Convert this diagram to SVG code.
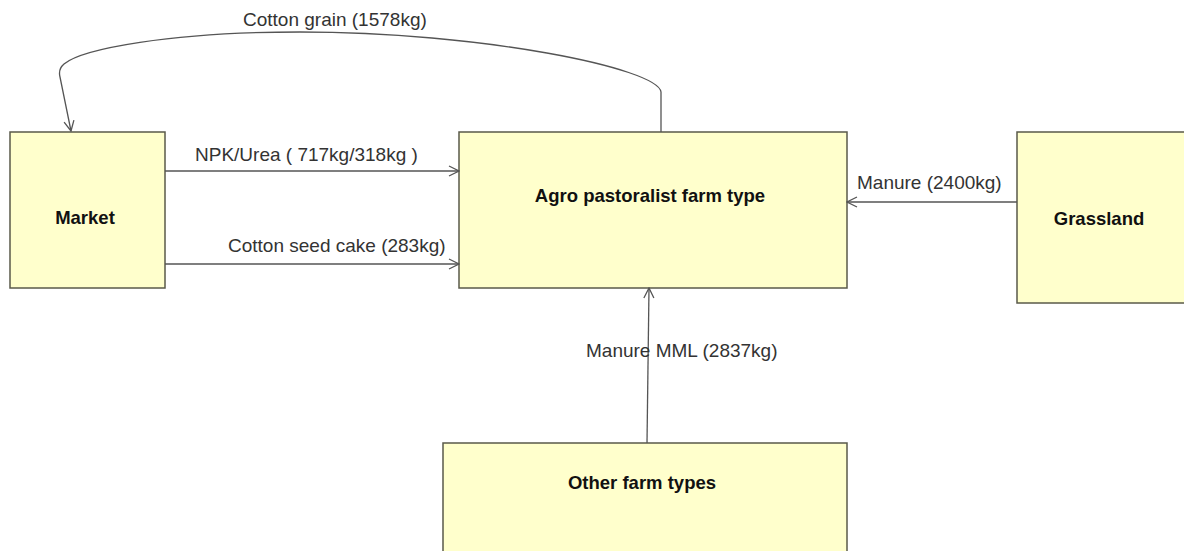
<svg xmlns="http://www.w3.org/2000/svg" width="1184" height="551" viewBox="0 0 1184 551">
  <defs>
    <style>
      .box { fill: #ffffcc; stroke: #5a5a4a; stroke-width: 1.5; }
      .title { font-family: "Liberation Sans", Arial, sans-serif; font-size: 18.5px; font-weight: bold; fill: #111; text-anchor: middle; }
      .edge { fill: none; stroke: #555; stroke-width: 1.3; marker-end: url(#open); }
      .lbl { font-family: "Liberation Sans", Arial, sans-serif; font-size: 19px; fill: #333; }
    </style>
    <marker id="open" viewBox="0 0 12 12" refX="11" refY="6" markerWidth="12" markerHeight="12" markerUnits="userSpaceOnUse" orient="auto">
      <path d="M1,1 L11,6 L1,11" fill="none" stroke="#555" stroke-width="1.3"/>
    </marker>
  </defs>
  <rect width="1184" height="551" fill="#ffffff"/>

  <g id="market">
    <rect class="box" x="10" y="132" width="155" height="156"/>
    <text class="title" x="85" y="224">Market</text>
  </g>
  <g id="agro">
    <rect class="box" x="459" y="132" width="388" height="156"/>
    <text class="title" x="650" y="202">Agro pastoralist farm type</text>
  </g>
  <g id="grassland">
    <rect class="box" x="1017" y="132" width="180" height="171"/>
    <text class="title" x="1099" y="225">Grassland</text>
  </g>
  <g id="other">
    <rect class="box" x="443" y="443" width="404" height="120"/>
    <text class="title" x="642" y="489">Other farm types</text>
  </g>

  <g id="connectors">
    <path class="edge" d="M661,132 L661,92 C658,68 480,32 300,32 C170,32 82,49 64,64 Q58,69 60,77 L71,131"/>
    <text class="lbl" x="243" y="26">Cotton grain (1578kg)</text>
    <path class="edge" d="M165,171 L459,171"/>
    <text class="lbl" x="195" y="161">NPK/Urea ( 717kg/318kg )</text>
    <path class="edge" d="M165,264 L459,264"/>
    <text class="lbl" x="228" y="252">Cotton seed cake (283kg)</text>
    <path class="edge" d="M1017,202 L847,202"/>
    <text class="lbl" x="857" y="189">Manure (2400kg)</text>
    <path class="edge" d="M647,443 L649,288"/>
    <text class="lbl" x="586" y="357">Manure MML (2837kg)</text>
  </g>
</svg>
